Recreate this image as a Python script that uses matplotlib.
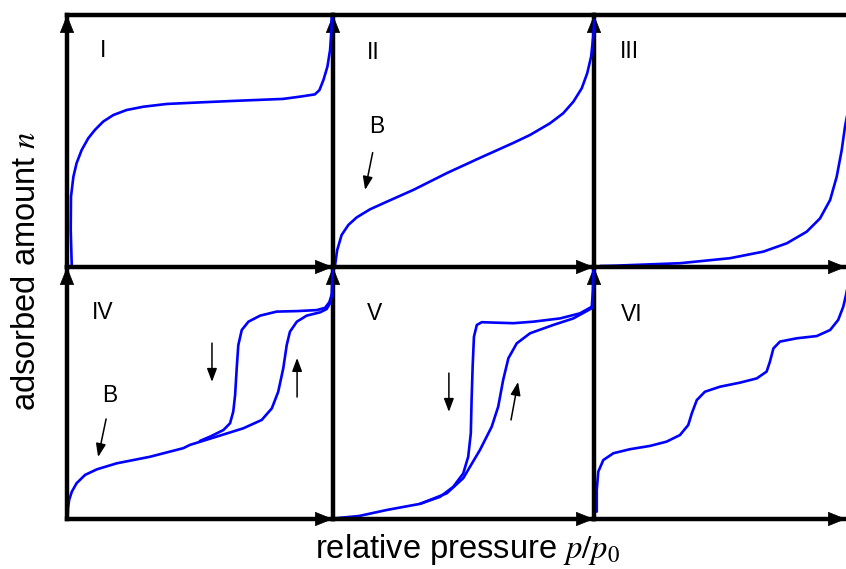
"""
Six IUPAC physisorption isotherm types (I - VI), drawn as a 2x3 grid of
bare axes with arrowheads.  Values are in panel units: p/p0 and n on 0..1.
"""
import matplotlib
matplotlib.use("Agg")
import matplotlib.pyplot as plt

plt.rcParams["font.family"] = ["Liberation Sans", "DejaVu Sans"]
plt.rcParams["mathtext.fontset"] = "stix"

# ── CONFIG ────────────────────────────────────────────────────────────────
BLUE     = "#0000ff"
AXIS_LW  = 3.2
CURVE_LW = 1.9
LABEL_FS = 16.5
TITLE_FS = 23.5

# ── DATA ──────────────────────────────────────────────────────────────────
# Type I
I_x = [0.018, 0.014, 0.015, 0.024, 0.036, 0.055, 0.080, 0.105, 0.136, 0.174,
       0.224, 0.287, 0.375, 0.475, 0.624, 0.812, 0.876, 0.932, 0.949, 0.964,
       0.979, 0.989, 0.994, 0.995]
I_y = [0.000, 0.147, 0.279, 0.358, 0.412, 0.464, 0.511, 0.544, 0.577, 0.603,
       0.623, 0.636, 0.647, 0.652, 0.659, 0.667, 0.676, 0.685, 0.702, 0.742,
       0.795, 0.861, 0.940, 0.993]

# Type II
II_x = [0.004, 0.008, 0.016, 0.033, 0.059, 0.091, 0.142, 0.206, 0.308, 0.437,
        0.563, 0.690, 0.755, 0.831, 0.882, 0.921, 0.953, 0.974, 0.989, 0.997,
        1.001]
II_y = [0.000, 0.008, 0.067, 0.127, 0.167, 0.197, 0.229, 0.259, 0.306, 0.373,
        0.433, 0.492, 0.524, 0.570, 0.610, 0.656, 0.709, 0.769, 0.835, 0.914,
        0.980]

# Type III
III_x = [0.024, 0.075, 0.341, 0.540, 0.672, 0.765, 0.844, 0.897, 0.937, 0.963,
         0.983, 0.996, 1.008]
III_y = [0.004, 0.005, 0.015, 0.035, 0.061, 0.094, 0.140, 0.193, 0.266, 0.358,
         0.464, 0.557, 0.620]

# Type IV: adsorption and desorption branches
IV_ads_x = [0.002, 0.004, 0.008, 0.018, 0.036, 0.068, 0.112, 0.187, 0.312,
            0.437, 0.462, 0.563, 0.663, 0.732, 0.770, 0.794, 0.813, 0.826,
            0.838, 0.864, 0.901, 0.951, 0.976, 0.989, 0.995, 1.000]
IV_ads_y = [0.000, 0.044, 0.075, 0.108, 0.142, 0.175, 0.197, 0.221, 0.247,
            0.281, 0.294, 0.327, 0.360, 0.393, 0.439, 0.505, 0.598, 0.690,
            0.743, 0.783, 0.807, 0.820, 0.833, 0.856, 0.889, 1.000]
IV_des_x = [0.500, 0.538, 0.588, 0.613, 0.625, 0.632, 0.638, 0.644, 0.657,
            0.682, 0.726, 0.788, 0.864, 0.939, 0.970, 0.986, 0.995]
IV_des_y = [0.310, 0.327, 0.353, 0.380, 0.426, 0.492, 0.598, 0.690, 0.750,
            0.783, 0.807, 0.823, 0.825, 0.829, 0.838, 0.860, 0.889]

# Type V: adsorption and desorption branches
V_ads_x = [0.000, 0.100, 0.207, 0.333, 0.436, 0.499, 0.563, 0.608, 0.633,
           0.652, 0.672, 0.704, 0.755, 0.844, 0.921, 0.991, 0.996, 0.998]
V_ads_y = [0.002, 0.012, 0.036, 0.060, 0.102, 0.162, 0.274, 0.366, 0.446,
           0.552, 0.638, 0.697, 0.737, 0.770, 0.796, 0.836, 0.909, 0.988]
V_des_x = [0.333, 0.410, 0.461, 0.499, 0.518, 0.528, 0.531, 0.535, 0.540,
           0.551, 0.570, 0.627, 0.691, 0.767, 0.870, 0.946, 0.991]
V_des_y = [0.060, 0.088, 0.128, 0.181, 0.247, 0.340, 0.472, 0.604, 0.723,
           0.770, 0.781, 0.779, 0.777, 0.783, 0.796, 0.816, 0.842]

# Type VI (stepwise)
VI_x = [0.011, 0.011, 0.017, 0.037, 0.077, 0.143, 0.222, 0.288, 0.341, 0.374,
        0.388, 0.408, 0.440, 0.500, 0.579, 0.646, 0.685, 0.698, 0.712, 0.738,
        0.804, 0.884, 0.937, 0.969, 0.989, 1.000, 1.010]
VI_y = [0.029, 0.115, 0.188, 0.234, 0.261, 0.277, 0.290, 0.307, 0.333, 0.373,
        0.419, 0.472, 0.505, 0.525, 0.541, 0.558, 0.585, 0.624, 0.677, 0.704,
        0.717, 0.726, 0.750, 0.790, 0.842, 0.889, 0.940]

PANEL_NAMES = ["I", "II", "III", "IV", "V", "VI"]
NAME_POS    = [(0.135, 0.861), (0.153, 0.853), (0.139, 0.857),
               (0.135, 0.821), (0.161, 0.817), (0.151, 0.813)]

# ── FIGURE ────────────────────────────────────────────────────────────────
fig = plt.figure(figsize=(8.46, 5.69), dpi=100)
gs = fig.add_gridspec(2, 3, left=67 / 846, right=1.0,
                      bottom=1 - 519 / 569, top=1 - 15 / 569,
                      width_ratios=[266, 261, 252], wspace=0, hspace=0)
axes = [fig.add_subplot(gs[r, c]) for r in range(2) for c in range(3)]

AX_ARROW = dict(arrowstyle="-|>,head_length=0.6,head_width=0.24",
                mutation_scale=20, color="k", lw=0.5, shrinkA=0, shrinkB=0)
SMALL_ARROW = dict(arrowstyle="-|>,head_length=0.8,head_width=0.3",
                   mutation_scale=10, color="k", lw=1.1, shrinkA=0, shrinkB=0)


def style_panel(ax, row, idx):
    ax.set_xlim(0, 1)
    ax.set_ylim(0, 1)
    ax.set_xticks([])
    ax.set_yticks([])
    ax.patch.set_alpha(0)
    # earlier panels on top so their curves overlap neighbouring axes
    ax.set_zorder(10 - idx)
    for side in ["left", "bottom", "top", "right"]:
        ax.spines[side].set_linewidth(AXIS_LW)
        ax.spines[side].set_color("k")
    ax.spines["right"].set_visible(False)
    ax.spines["top"].set_visible(row == 0)
    ax.annotate("", xy=(0, 1), xytext=(0, 0.9), xycoords="axes fraction",
                arrowprops=AX_ARROW, annotation_clip=False)
    ax.annotate("", xy=(1, 0), xytext=(0.9, 0), xycoords="axes fraction",
                arrowprops=AX_ARROW, annotation_clip=False)


def curve(ax, x, y):
    ax.plot(x, y, color=BLUE, lw=CURVE_LW, solid_joinstyle="round",
            solid_capstyle="round", clip_on=False)


def small_arrow(ax, start, end):
    ax.annotate("", xy=end, xytext=start, arrowprops=SMALL_ARROW)


for i, ax in enumerate(axes):
    style_panel(ax, i // 3, i)
    ax.text(*NAME_POS[i], PANEL_NAMES[i], fontsize=LABEL_FS,
            ha="center", va="center")

curve(axes[0], I_x, I_y)
curve(axes[1], II_x, II_y)
curve(axes[2], III_x, III_y)
curve(axes[3], IV_ads_x, IV_ads_y)
curve(axes[3], IV_des_x, IV_des_y)
curve(axes[4], V_ads_x, V_ads_y)
curve(axes[4], V_des_x, V_des_y)
curve(axes[5], VI_x, VI_y)

# point B (monolayer completion) and hysteresis direction arrows
axes[1].text(0.167, 0.557, "B", fontsize=LABEL_FS, ha="center", va="center")
small_arrow(axes[1], (0.152, 0.454), (0.123, 0.306))
axes[3].text(0.162, 0.492, "B", fontsize=LABEL_FS, ha="center", va="center")
small_arrow(axes[3], (0.147, 0.397), (0.117, 0.246))
small_arrow(axes[3], (0.545, 0.698), (0.545, 0.544))
small_arrow(axes[3], (0.865, 0.484), (0.865, 0.639))
small_arrow(axes[4], (0.444, 0.579), (0.444, 0.425))
small_arrow(axes[4], (0.682, 0.393), (0.709, 0.544))

fig.text(0.031, 0.524, "adsorbed amount $n$", rotation=90, fontsize=TITLE_FS,
         ha="center", va="center")
fig.text(0.553, 0.019, "relative pressure $p/p_0$", fontsize=TITLE_FS,
         ha="center", va="baseline")

fig.savefig("out.png", dpi=100)
